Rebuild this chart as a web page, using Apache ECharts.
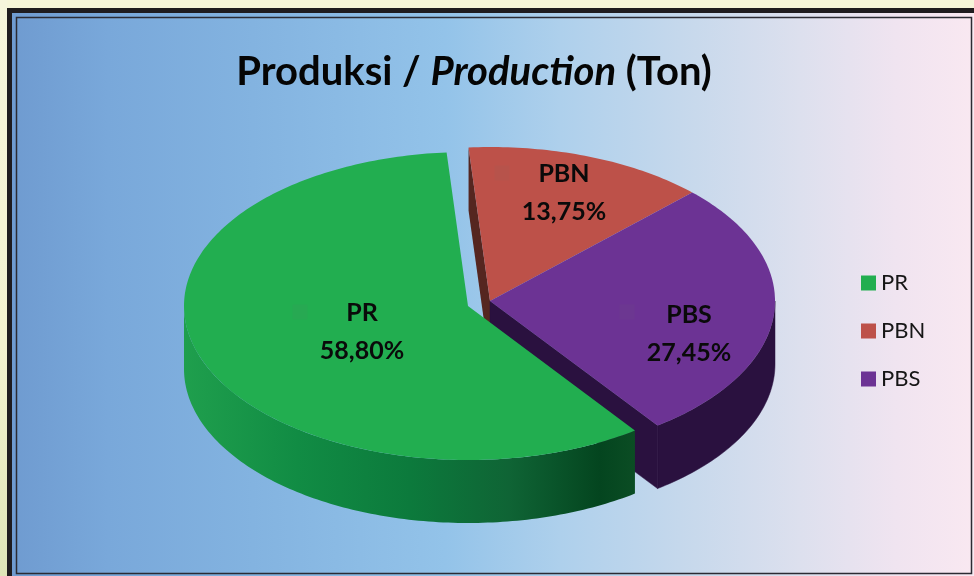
<!DOCTYPE html>
<html><head><meta charset="utf-8">
<style>html,body{margin:0;padding:0;background:#f6f5d9}#c{width:974px;height:576px}</style>
<script src="https://cdn.jsdelivr.net/npm/echarts@6/dist/echarts.min.js"></script>
</head><body><div id="c"></div>
<script>
const categories = ['PR', 'PBN', 'PBS'];
const shares = [58.80, 13.75, 27.45];
const shareLabels = ['58,80%', '13,75%', '27,45%'];
const titleParts = ['Produksi / ', 'Production', ' (Ton)'];

const START_ANGLE = 144, DEPTH = 63, RX = 285, RY = 154;
const FONT = 'Lato, "Open Sans", sans-serif';
const styleOf = {
  PR:  { c:[468,306], rx:284, top:'#22ae50', wall:{type:'linear',x:184,y:0,x2:636,y2:0,global:true,colorStops:[
          {offset:0,color:'#1f9f4d'},{offset:.25,color:'#118c44'},{offset:.5,color:'#0c7a3c'},
          {offset:.72,color:'#0f6435'},{offset:.92,color:'#04451f'},{offset:1,color:'#0b4d24'}]},
        cut:'#0b4d24', label:[362,332], key:[300,312], z:4 },
  PBN: { c:[490,301], rx:RX, top:'#bd5149', wall:'#552620', cut:'#552620', label:[564,193], key:[502,173], z:2 },
  PBS: { c:[490,301], rx:RX, top:'#6c3394', wall:'#2a113f', cut:'#2a113f', label:[689,334], key:[627,312], z:3 }
};
function pt(s, deg, dy) {
  const a = deg * Math.PI / 180;
  return [s.c[0] + s.rx * Math.sin(a), s.c[1] - RY * Math.cos(a) + (dy || 0)];
}
function arc(s, a0, a1, dy) {
  const out = [], n = Math.max(2, Math.ceil(Math.abs(a1 - a0)));
  for (let i = 0; i <= n; i++) out.push(pt(s, a0 + (a1 - a0) * i / n, dy));
  return out;
}
function anglesOf(idx) {
  const total = shares.reduce((a, b) => a + b, 0);
  let before = 0;
  for (let i = 0; i < idx; i++) before += shares[i];
  const a0 = START_ANGLE + before / total * 360;
  return [a0, a0 + shares[idx] / total * 360];
}
function makeRender(idx) {
  return function (params, api) {
    const name = categories[idx], s = styleOf[name];
    const val = api.value(0);
    const [a0, a1] = anglesOf(idx);
    const kids = [];
    const poly = (points, fill, seal) => kids.push({ type:'polygon', shape:{ points },
      style:{ fill, stroke: seal ? fill : null, lineWidth: seal ? 0.5 : 0 }, silent:true });
    const apex = s.c, apexLow = [s.c[0], s.c[1] + DEPTH];
    // outer wall: only the part of the rim facing the viewer (90..270 deg, also after one full turn)
    [0, 360].forEach(turn => {
      const vis0 = Math.max(a0, 90 + turn), vis1 = Math.min(a1, 270 + turn);
      if (vis1 > vis0) poly(arc(s, vis0, vis1, 0).concat(arc(s, vis1, vis0, DEPTH)), s.wall, typeof s.wall === 'string');
    });
    if (name === 'PBN') {
      const p = pt(s, a0), q = pt(s, a0, DEPTH);
      poly([apex, p, q, apexLow], s.cut);
    }
    if (name === 'PBS') {
      const p = pt(s, a1), q = pt(s, a1, DEPTH);
      poly([apex, p, q, apexLow], s.cut, true);
    }
    poly([apex].concat(arc(s, a0, a1, 0)), s.top);
    kids.push({ type:'rect', shape:{ x:s.key[0]-7.5, y:s.key[1]-7.5, width:15, height:15 },
      style:{ fill:'rgba(120,120,120,0.07)' }, silent:true });
    kids.push({ type:'text', x:s.label[0], y:s.label[1], silent:true, style:{
      text: name + '\n' + shareLabels[idx], align:'center', verticalAlign:'middle',
      font:'bold 25px ' + FONT, lineHeight:38, fill:'#0a0a0a' } });
    return { type:'group', children:kids, info:val };
  };
}
const chart = echarts.init(document.getElementById('c'), null, { renderer:'canvas' });
const titleBase = { fontFamily:FONT, fontSize:40, fontWeight:'bold', color:'#050505' };
chart.setOption({
  animation:false,
  backgroundColor:'#f6f5d9',
  title:{ left:469, top:47, textAlign:'center',
    text:'{a|'+titleParts[0]+'}{b|'+titleParts[1]+'}{a|'+titleParts[2]+'}',
    textStyle:{ rich:{ a:titleBase, b:Object.assign({}, titleBase, { fontStyle:'italic' }) } } },
  legend:{ orient:'vertical', left:856, top:267, itemWidth:15, itemHeight:15, itemGap:26, icon:'rect',
    data:categories, selectedMode:false,
    textStyle:{ fontFamily:FONT, fontSize:22, color:'#161616' } },
  graphic:[
    { type:'rect', silent:true, z:0, shape:{ x:0, y:0, width:7, height:576 },
      style:{ fill:{ type:'linear', x:0, y:0, x2:0, y2:1, colorStops:[{offset:0,color:'#f6f5dc'},{offset:.6,color:'#f3f2d0'},{offset:1,color:'#dfe5b8'}] } } },
    { type:'rect', silent:true, z:0, shape:{ x:7, y:8, width:967, height:568 }, style:{ fill:'#1f1c1f' } },
    { type:'rect', silent:true, z:0, shape:{ x:12, y:13, width:962, height:563 },
      style:{ fill:{ type:'linear', x:12, y:0, x2:974, y2:0, global:true, colorStops:[
        {offset:0,color:'#6f9bd0'},{offset:.1,color:'#79a8da'},{offset:.25,color:'#83b3e0'},
        {offset:.45,color:'#93c3e9'},{offset:.57,color:'#aed0ec'},{offset:.71,color:'#c8d9ec'},
        {offset:.82,color:'#dde0ee'},{offset:.92,color:'#f0e4f0'},{offset:1,color:'#f9e8f1'}] } } },
    { type:'rect', silent:true, z:0, shape:{ x:16.5, y:17.5, width:955, height:556 },
      style:{ fill:'transparent', stroke:'#2b2b33', lineWidth:1.5 } }
  ],
  series: categories.map((name, i) => ({
    type:'custom', name, coordinateSystem:'none', z:styleOf[name].z,
    itemStyle:{ color:styleOf[name].top }, silent:true,
    renderItem:makeRender(i), data:[[shares[i]]]
  }))
});
</script></body></html>
